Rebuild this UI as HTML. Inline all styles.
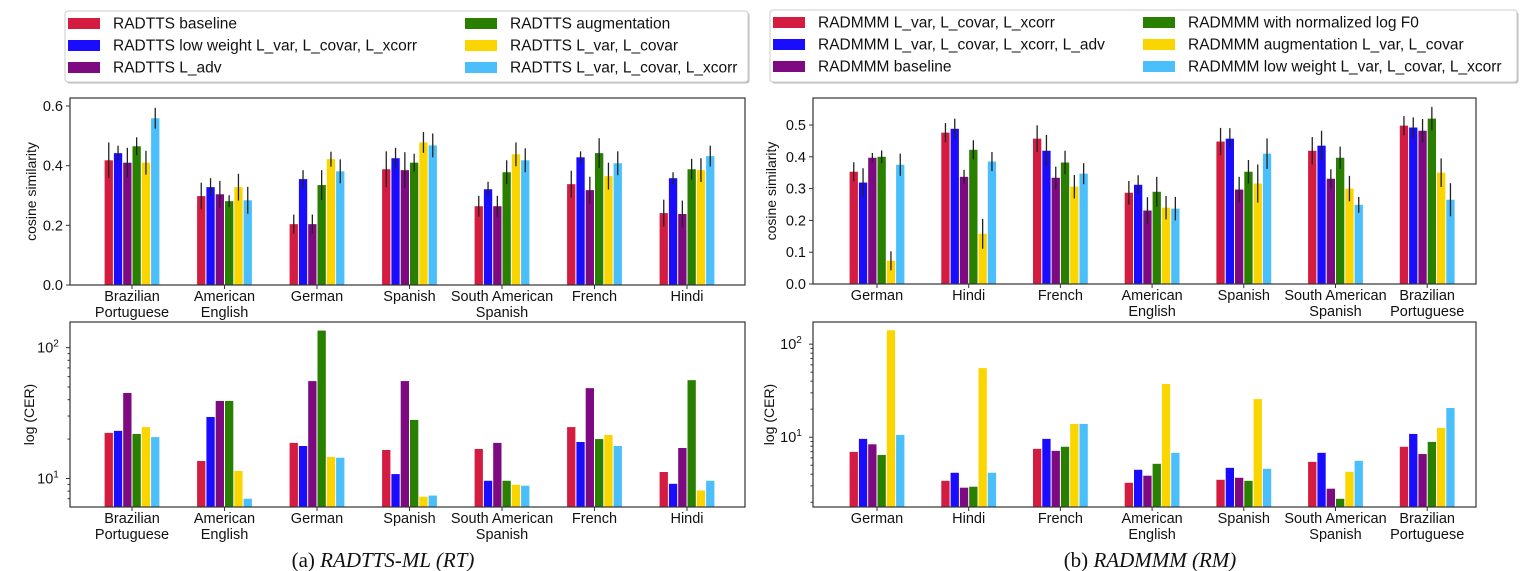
<!DOCTYPE html>
<html><head><meta charset="utf-8"><style>
body{margin:0;background:#fff;width:1535px;height:571px;overflow:hidden;font-family:"Liberation Sans",sans-serif}
svg{position:absolute;left:0;top:0}
</style></head><body>
<svg id="fig" width="1535" height="571" xmlns="http://www.w3.org/2000/svg"></svg>
<script>
const colors=["#d31c40","#1a0dff","#7d0a80","#297f00","#fbd500","#4bbffc"];
const rtCats=[["Brazilian","Portuguese"],["American","English"],["German"],["Spanish"],["South American","Spanish"],["French"],["Hindi"]];
const rmCats=[["German"],["Hindi"],["French"],["American","English"],["Spanish"],["South American","Spanish"],["Brazilian","Portuguese"]];
const rtLegend=["RADTTS baseline","RADTTS low weight L_var, L_covar, L_xcorr","RADTTS L_adv","RADTTS augmentation","RADTTS L_var, L_covar","RADTTS L_var, L_covar, L_xcorr"];
const rmLegend=["RADMMM L_var, L_covar, L_xcorr","RADMMM L_var, L_covar, L_xcorr, L_adv","RADMMM baseline","RADMMM with normalized log F0","RADMMM augmentation L_var, L_covar","RADMMM low weight L_var, L_covar, L_xcorr"];
const rtCos=[[0.418,0.442,0.41,0.465,0.41,0.559],[0.298,0.328,0.304,0.281,0.328,0.284],[0.204,0.355,0.204,0.335,0.422,0.381],[0.388,0.425,0.385,0.41,0.478,0.468],[0.264,0.321,0.264,0.378,0.438,0.418],[0.338,0.428,0.318,0.442,0.365,0.408],[0.241,0.358,0.238,0.388,0.385,0.432]];
const rtCosErr=[[0.06,0.025,0.05,0.03,0.04,0.035],[0.045,0.03,0.045,0.02,0.045,0.045],[0.032,0.03,0.032,0.05,0.025,0.04],[0.06,0.035,0.06,0.03,0.035,0.04],[0.035,0.025,0.035,0.04,0.04,0.04],[0.045,0.02,0.045,0.05,0.045,0.04],[0.045,0.02,0.045,0.035,0.04,0.035]];
const rtCer=[[22.3,23.1,45,21.9,24.7,20.7],[13.6,29.5,39.1,39.1,11.4,7.0],[18.7,17.7,55.5,135,14.6,14.4],[16.5,10.8,55.5,28.0,7.25,7.4],[16.8,9.6,18.7,9.6,8.95,8.8],[24.7,19.0,49,20.0,21.5,17.7],[11.2,9.1,17.1,56.4,8.1,9.6]];
const rmCos=[[0.353,0.319,0.397,0.40,0.073,0.375],[0.476,0.488,0.337,0.422,0.158,0.385],[0.457,0.419,0.334,0.382,0.306,0.347],[0.287,0.312,0.231,0.29,0.24,0.237],[0.448,0.457,0.297,0.353,0.316,0.41],[0.419,0.435,0.331,0.397,0.30,0.249],[0.498,0.492,0.482,0.52,0.35,0.265]];
const rmCosErr=[[0.03,0.045,0.015,0.02,0.03,0.035],[0.03,0.032,0.022,0.03,0.047,0.03],[0.042,0.05,0.035,0.037,0.037,0.033],[0.037,0.03,0.042,0.047,0.037,0.037],[0.043,0.033,0.04,0.037,0.06,0.048],[0.043,0.047,0.03,0.035,0.04,0.025],[0.03,0.032,0.037,0.037,0.045,0.052]];
const rmCer=[[6.96,9.6,8.4,6.45,141,10.6],[3.4,4.15,2.87,2.94,55.3,4.15],[7.5,9.6,7.14,7.9,13.9,13.9],[3.24,4.47,3.86,5.18,37.3,6.8],[3.49,4.69,3.67,3.4,25.7,4.58],[5.44,6.8,2.8,2.18,4.25,5.58],[7.9,10.85,6.6,8.9,12.6,20.6]];
const rtCosTicks=[0.0,0.2,0.4,0.6];
const rmCosTicks=[0.0,0.1,0.2,0.3,0.4,0.5];

const NS="http://www.w3.org/2000/svg";
const fig=document.getElementById('fig');
function el(tag,attrs,parent,text){const e=document.createElementNS(NS,tag);for(const k in attrs)e.setAttribute(k,attrs[k]);if(text!==undefined)e.textContent=text;(parent||fig).appendChild(e);return e;}

function legend(x,y,w,h,labels,col2x,name){
  const g=el('g',{});
  
  
  el('rect',{x:x+1.5,y:y+1.5,width:w,height:h,rx:3,fill:'#bbb'},g);
  el('rect',{x:x,y:y,width:w,height:h,rx:3,fill:'#fff',stroke:'#ccc'},g);
  labels.forEach((l,i)=>{
    const cx=i<3?x+3:col2x, cy=y+12+(i%3)*22;
    const e=el('g',{},g);
    
    
    el('rect',{x:cx,y:cy-5,width:32,height:11,fill:colors[i]},e);
    el('text',{x:cx+45,y:cy+5.5,'font-size':15.5,fill:'#111'},e,l);
  });
}
legend(65,11,683,71,rtLegend,465,'legend-rt');
legend(770,10,747,72,rmLegend,1143,'legend-rm');

function chart(o){
  const g=el('g',{});
  
  
  const L=o.x0,R=o.x1,T=o.y0,B=o.y1;
  const yf=o.log?(v=>B-(Math.log10(v)-Math.log10(o.ymin))/(Math.log10(o.ymax)-Math.log10(o.ymin))*(B-T)):(v=>B-(v-o.ymin)/(o.ymax-o.ymin)*(B-T));
  const xc=i=>o.c0+o.cs*i;
  const bw=8.3, bs=9.3;
  o.vals.forEach((arr,i)=>{
    arr.forEach((v,j)=>{
      const x=xc(i)+(j-2.5)*bs-bw/2, y=yf(v);
      const r=el('rect',{x:x,y:y,width:bw,height:B-y,fill:colors[j]},g);
      
      
      if(o.err){const e=o.err[i][j];el('line',{x1:x+bw/2,x2:x+bw/2,y1:yf(v+e),y2:yf(Math.max(v-e,0)),stroke:'#222','stroke-width':1.3},g);}
    });
    o.cats[i].forEach((t,k)=>{
      const tx=el('text',{x:xc(i),y:B+16+k*16,'font-size':14.5,'text-anchor':'middle',fill:'#111'},g,t);
      
      
    });
    el('line',{x1:xc(i),x2:xc(i),y1:B,y2:B+4,stroke:'#333'},g);
  });
  if(o.log){
    for(let d=Math.floor(Math.log10(o.ymin));d<=Math.ceil(Math.log10(o.ymax));d++){
      for(let m=1;m<10;m++){const v=m*Math.pow(10,d);if(v<o.ymin||v>o.ymax)continue;const y=yf(v);
        el('line',{x1:L-(m==1?4:2.5),x2:L,y1:y,y2:y,stroke:'#333'},g);
        if(m==1){const t=el('text',{x:L-22,y:y+5,'font-size':14.5,'text-anchor':'middle',fill:'#111'},g,'10');el('tspan',{dy:-6,'font-size':10},t,String(d));}
      }
    }
  } else {
    o.ticks.forEach(v=>{const y=yf(v);el('line',{x1:L-4,x2:L,y1:y,y2:y,stroke:'#333'},g);el('text',{x:L-7,y:y+5,'font-size':14.5,'text-anchor':'end',fill:'#111'},g,v.toFixed(1));});
  }
  el('rect',{x:L,y:T,width:R-L,height:B-T,fill:'none',stroke:'#333','stroke-width':1.2},g);
  const yt=el('text',{x:0,y:0,'font-size':14,'text-anchor':'middle',fill:'#111',transform:`translate(${o.tx},${(T+B)/2}) rotate(-90)`},g,o.title);
  
  
}
chart({name:'rt-cosine-chart',x0:70,x1:745,y0:98,y1:285,c0:132,cs:92.5,ymin:0,ymax:0.6/(179/187),vals:rtCos,err:rtCosErr,cats:rtCats,ticks:rtCosTicks,title:'cosine similarity',tx:36});
chart({name:'rm-cosine-chart',x0:813,x1:1476,y0:98,y1:284,c0:877,cs:91.7,ymin:0,ymax:0.5*186/159,vals:rmCos,err:rmCosErr,cats:rmCats,ticks:rmCosTicks,title:'cosine similarity',tx:776});
chart({name:'rt-cer-chart',x0:70,x1:745,y0:322,y1:507,c0:132,cs:92.5,ymin:6.05,ymax:157,log:true,vals:rtCer,cats:rtCats,title:'log (CER)',tx:34});
chart({name:'rm-cer-chart',x0:813,x1:1476,y0:322,y1:507,c0:877,cs:91.7,ymin:1.78,ymax:173,log:true,vals:rmCer,cats:rmCats,title:'log (CER)',tx:774});
const c1=el('text',{x:383,y:567,'font-size':21,'text-anchor':'middle','font-family':'Liberation Serif, serif',fill:'#111'},fig);


c1.appendChild(document.createTextNode('(a) '));el('tspan',{'font-style':'italic'},c1,'RADTTS-ML (RT)');
const c2=el('text',{x:1150,y:567,'font-size':21,'text-anchor':'middle','font-family':'Liberation Serif, serif',fill:'#111'},fig);


c2.appendChild(document.createTextNode('(b) '));el('tspan',{'font-style':'italic'},c2,'RADMMM (RM)');
</script>
</body></html>
